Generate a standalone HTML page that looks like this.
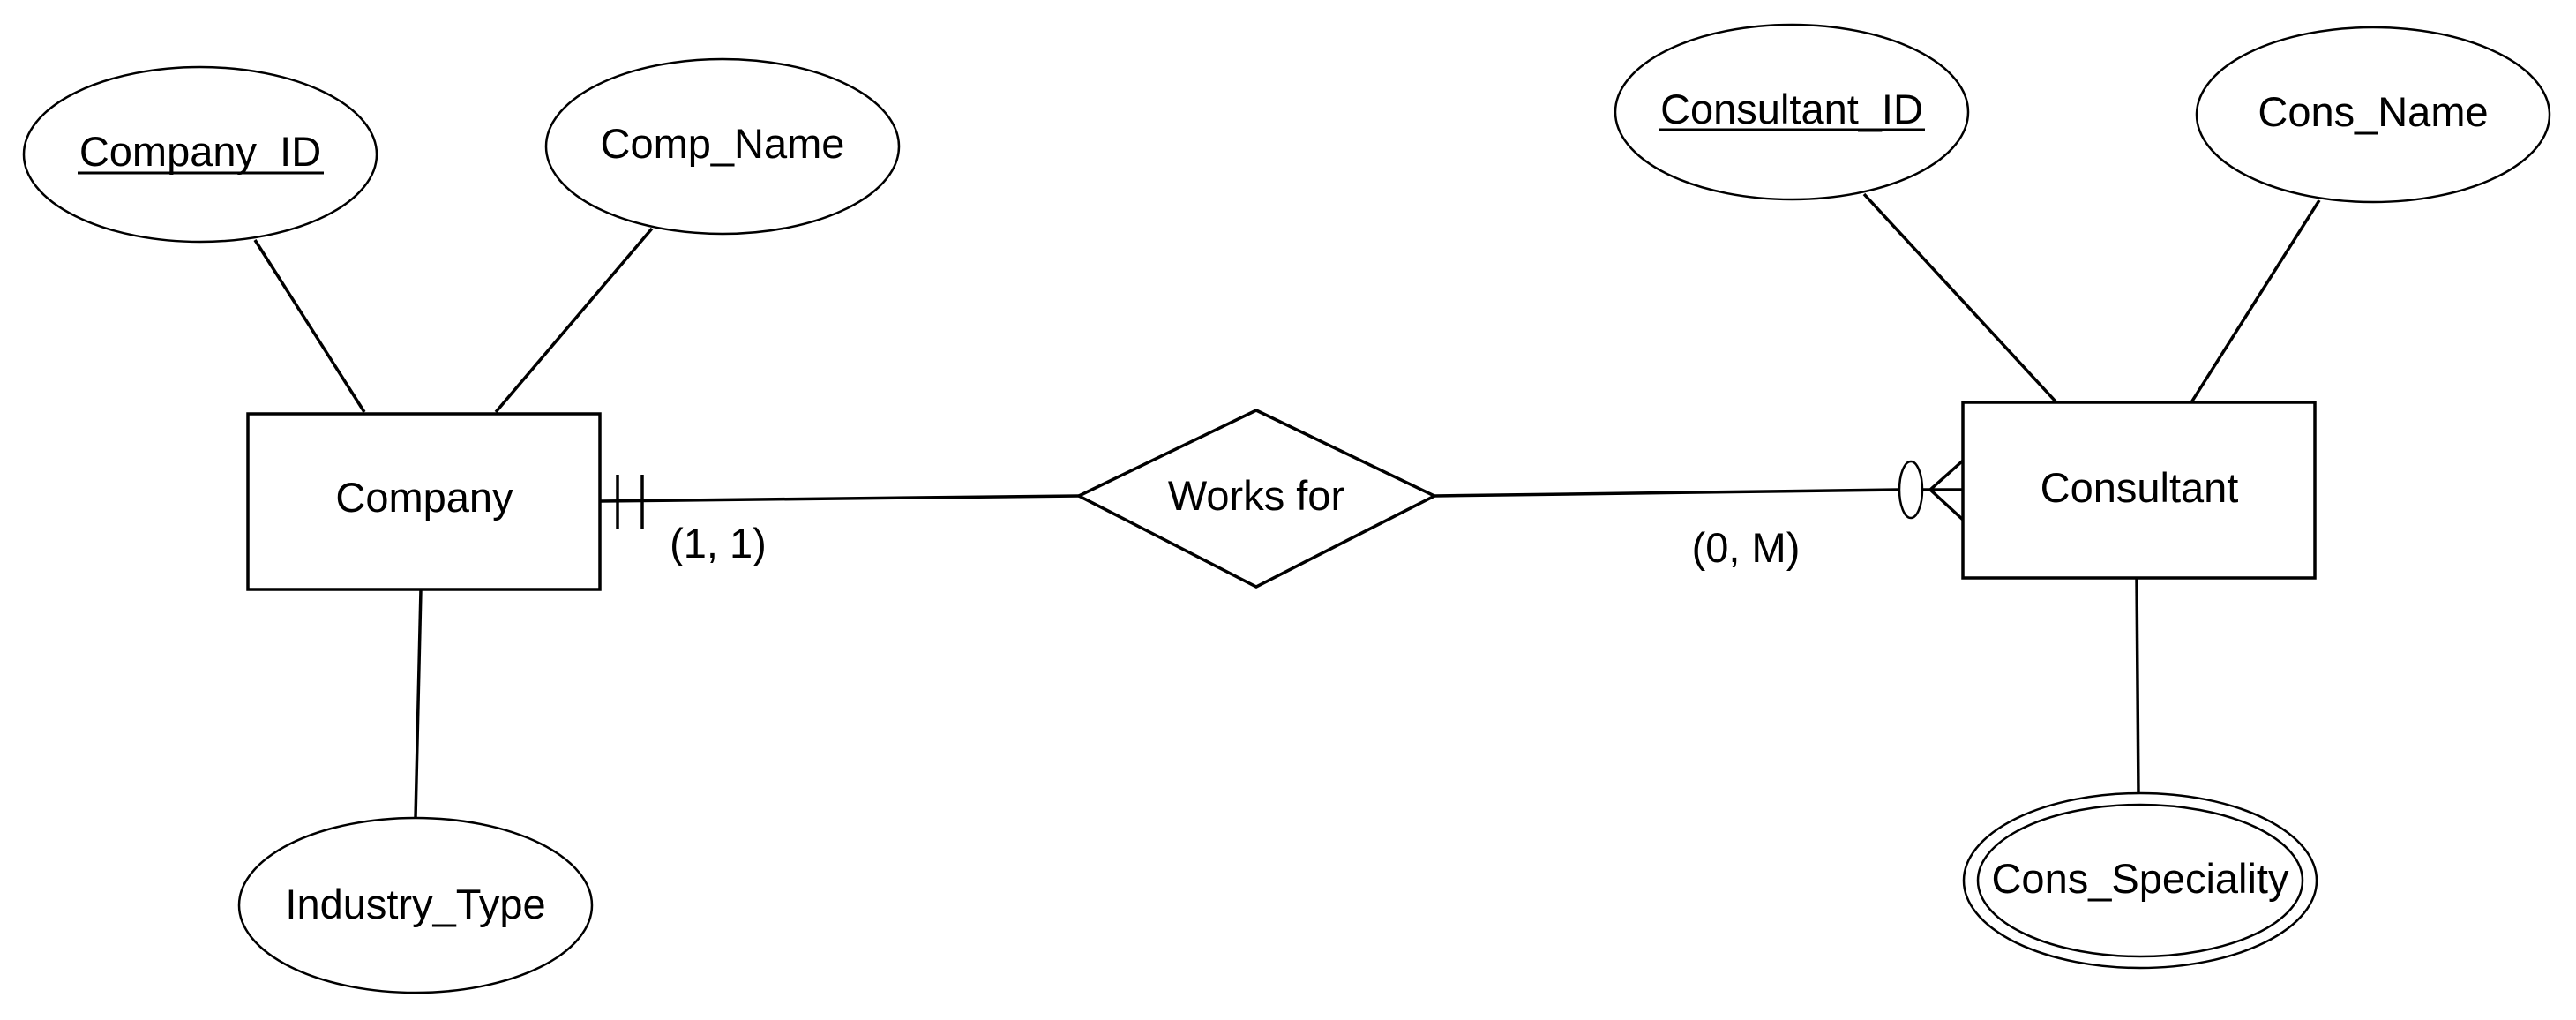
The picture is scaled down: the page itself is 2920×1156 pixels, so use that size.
<!DOCTYPE html>
<html><head><meta charset="utf-8"><style>html,body{margin:0;padding:0;background:#fff}svg{display:block}</style></head>
<body>
<svg width="2920" height="1156" viewBox="0 0 2920 1156" xmlns="http://www.w3.org/2000/svg" font-family="Liberation Sans, Arial, sans-serif" font-size="47" fill="none" stroke="#000" stroke-width="3.5">
<rect width="2920" height="1156" fill="#fff" stroke="none"/>
<line x1="289" y1="272" x2="413" y2="467"/>
<line x1="739" y1="259" x2="562" y2="467"/>
<line x1="477" y1="668" x2="471" y2="927"/>
<line x1="680" y1="568" x2="1223" y2="562"/>
<line x1="700" y1="538" x2="700" y2="600"/>
<line x1="728" y1="538" x2="728" y2="600"/>
<line x1="1626" y1="562" x2="2152" y2="555"/>
<ellipse cx="2166" cy="555" rx="13" ry="32" fill="#fff" stroke-width="2.5"/>
<line x1="2180" y1="555" x2="2225" y2="555"/>
<line x1="2188" y1="555" x2="2225" y2="522"/>
<line x1="2188" y1="555" x2="2225" y2="589"/>
<line x1="2113" y1="220" x2="2331" y2="456"/>
<line x1="2629" y1="227" x2="2484" y2="456"/>
<line x1="2422" y1="655" x2="2424" y2="900"/>
<ellipse cx="227" cy="175" rx="200" ry="99" fill="#fff" stroke-width="2.5"/>
<ellipse cx="819" cy="166" rx="200" ry="99" fill="#fff" stroke-width="2.5"/>
<ellipse cx="471" cy="1026" rx="200" ry="99" fill="#fff" stroke-width="2.5"/>
<ellipse cx="2031" cy="127" rx="200" ry="99" fill="#fff" stroke-width="2.5"/>
<ellipse cx="2690" cy="130" rx="200" ry="99" fill="#fff" stroke-width="2.5"/>
<ellipse cx="2426" cy="998" rx="200" ry="99" fill="#fff" stroke-width="2.5"/>
<ellipse cx="2426" cy="998" rx="184" ry="86" fill="none" stroke-width="2.5"/>
<rect x="281" y="469" width="399" height="199" fill="#fff"/>
<rect x="2225" y="456" width="399" height="199" fill="#fff"/>
<polygon points="1223,562 1424,465 1626,562 1424,665" fill="#fff"/>
<g fill="#000" stroke="none" text-anchor="middle">
<text x="227" y="188">Company_ID</text>
<text x="819" y="179">Comp_Name</text>
<text x="471" y="1041">Industry_Type</text>
<text x="2031" y="140">Consultant_ID</text>
<text x="2690" y="143">Cons_Name</text>
<text x="2426" y="1012">Cons_Speciality</text>
<text x="481" y="580">Company</text>
<text x="2425" y="569">Consultant</text>
<text x="1424" y="578">Works for</text>
<text x="814" y="632">(1, 1)</text>
<text x="1979" y="637">(0, M)</text>
</g>
<line x1="88" y1="196" x2="367" y2="196" stroke-width="3"/>
<line x1="1880" y1="147" x2="2182" y2="147" stroke-width="3"/>
</svg>
</body></html>
